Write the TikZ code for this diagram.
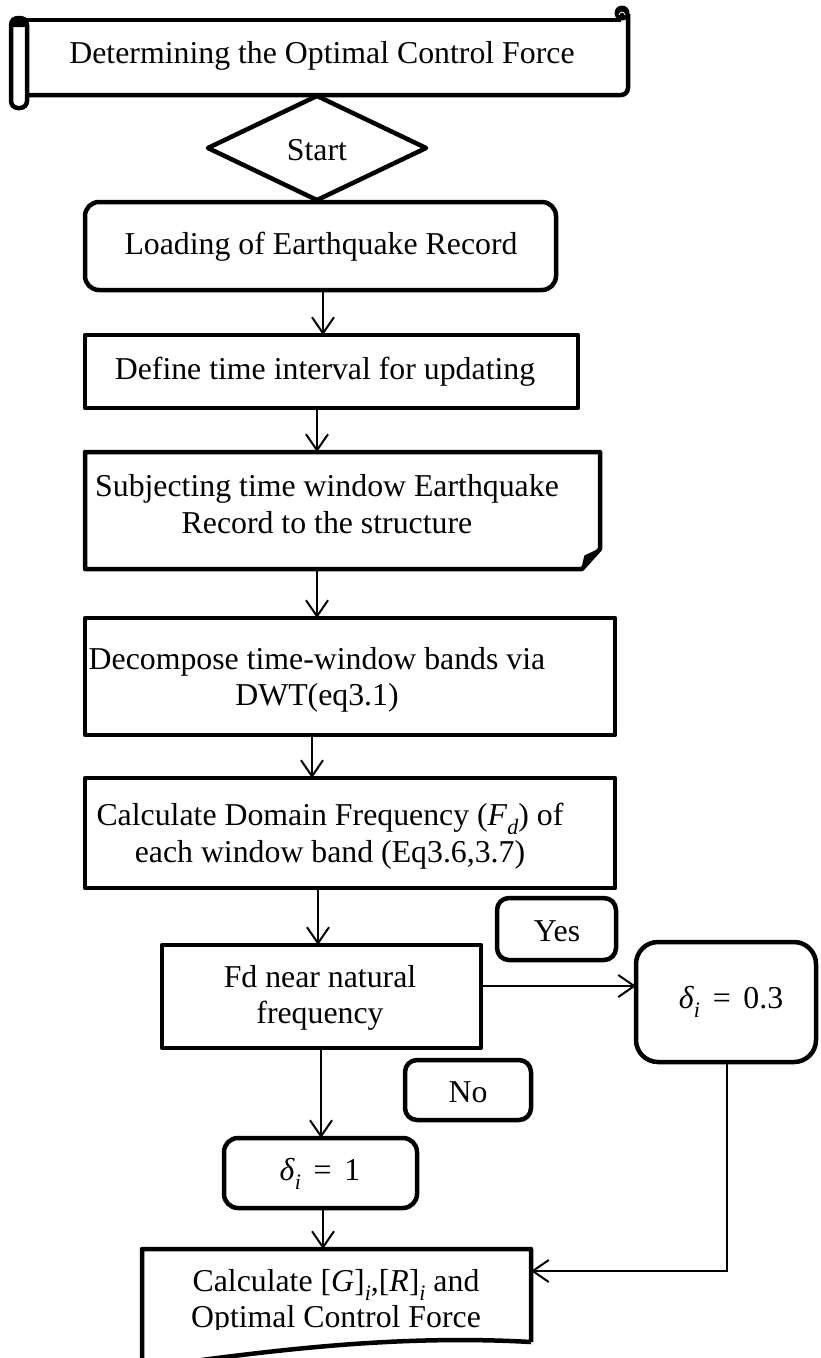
\documentclass[tikz,border=0pt]{standalone}
\usepackage{fontspec}
\setmainfont{Liberation Serif}
\usetikzlibrary{arrows.meta,shapes.geometric}
\newcommand\mysub[1]{\raisebox{-0.28em}{\fontsize{22}{22}\selectfont\textit{#1}}}
\newcommand\myeq{\hspace{0.4em}=\hspace{0.4em}}
\begin{document}
\begin{tikzpicture}[x=1pt,y=-1pt,
  bord/.style={draw=black,line width=4.5pt,line join=round},
  box/.style={bord,rectangle,inner sep=0pt,outer sep=0pt},
  rbox/.style={box,rounded corners=#1},
  ghost/.style={rectangle,inner sep=0pt,outer sep=0pt},
  lbl/.style={font=\fontsize{31.8}{36.5}\selectfont,align=center,inner sep=0pt},
  arr/.style={line width=2pt,-{Straight Barb[length=16pt,width=22pt,line width=2pt]}},
  conn/.style={line width=2pt}]
\useasboundingbox (0,0) rectangle (820,1358);
\fill[white] (0,0) rectangle (820,1358);

% banner (horizontal scroll)
\node[lbl] (title) at (322,56) {Determining the Optimal Control Force};
\draw[bord] (19,20) -- (621,20);
\draw[bord,rounded corners=7] (628,14) -- (628,95) -- (27,95);
\draw[bord,rounded corners=7] (11,18) rectangle (27,108);
\fill[rounded corners=3] (11,17) rectangle (27,27);
\fill (622,13) circle (7.5);
\draw[white,line width=0.8pt] (619,15) .. controls (620,11) and (624,11) .. (625,15);

% start diamond
\node[bord,diamond,inner sep=0pt,minimum width=220pt,minimum height=106pt] (start) at (317,148) {};
\node[lbl] (tstart) at (317,150) {Start};

% boxes
\node[rbox=14,minimum width=471pt,minimum height=88pt] (load) at (320.5,246) {};
\node[lbl] (tload) at (321,247) {Loading of Earthquake Record};

\node[box,minimum width=493pt,minimum height=73pt] (def) at (331.5,371.5) {};
\node[lbl] (tdef) at (325,372) {Define time interval for updating};

\node[ghost,minimum width=515pt,minimum height=117pt] (subj) at (342.5,510.5) {};
\draw[bord] (subj.north west) -- (subj.north east) -- ([yshift=20pt]subj.south east)
  -- ([xshift=-18pt]subj.south east) -- (subj.south west) -- cycle;
\filldraw[line width=1.5pt,line join=round] ([xshift=-18pt]subj.south east) -- ([xshift=-15pt,yshift=13pt]subj.south east)
  -- ([yshift=20pt]subj.south east) -- cycle;
\node[lbl] (tsubj) at (327,504) {Subjecting time window Earthquake\\Record to the structure};

\node[box,minimum width=530pt,minimum height=117pt] (decomp) at (350,676.5) {};
\node[lbl] (tdecomp) at (317,680) {Decompose time-window bands via\\DWT(eq3.1)};

\node[box,minimum width=530pt,minimum height=110pt] (calc) at (350,833) {};
\node[lbl] (tcalc) at (330,836) {Calculate Domain Frequency (\textit{F}\mysub{d}) of\\each window band (Eq3.6,3.7)};

\node[box,minimum width=319pt,minimum height=103pt] (fd) at (321.5,996.5) {};
\node[lbl] (tfd) at (320,998) {Fd near natural\\frequency};

\node[rbox=12,minimum width=119pt,minimum height=62pt] (yes) at (556.5,929) {};
\node[lbl] (tyes) at (557,931) {Yes};

\node[rbox=22,minimum width=180pt,minimum height=120pt] (dlow) at (726,1002) {};
\node[lbl] (tdlow) at (731,1002) {\textit{δ}\mysub{i}\myeq 0.3};

\node[rbox=12,minimum width=126pt,minimum height=60pt] (no) at (468,1090) {};
\node[lbl] (tno) at (468,1092) {No};

\node[rbox=14,minimum width=193pt,minimum height=70pt] (done) at (320.5,1173) {};
\node[lbl] (tdone) at (320,1174) {\textit{δ}\mysub{i}\myeq 1};

\node[ghost,minimum width=389pt,minimum height=93pt] (final) at (336.5,1295.5) {};
\draw[bord] (final.south east) -- (final.north east) -- (final.north west) -- (142,1368)
  .. controls (260,1352) and (390,1334) .. (final.south east);
\begin{scope}
\clip (142,1252) rectangle (531,1329);
\node[lbl] (tfinal) at (336,1302) {Calculate [\textit{G}]\mysub{i},[\textit{R}]\mysub{i} and\\Optimal Control Force};
\end{scope}

% connectors
\draw[arr] (load.south -| 323,0) -- (def.north -| 323,0);
\draw[arr] (def.south -| 317,0) -- (subj.north -| 317,0);
\draw[arr] (subj.south -| 317,0) -- (decomp.north -| 317,0);
\draw[arr] (decomp.south -| 312,0) -- (calc.north -| 312,0);
\draw[arr] (calc.south -| 318,0) -- (fd.north -| 318,0);
\draw[arr] (fd.east |- 0,986) -- (dlow.west |- 0,986);
\draw[arr] (fd.south -| 321,0) -- (done.north -| 321,0);
\draw[arr] (done.south -| 323,0) -- (final.north -| 323,0);
\draw[arr] (dlow.south -| 727,0) |- (final.east |- 0,1271);
\end{tikzpicture}
\end{document}
